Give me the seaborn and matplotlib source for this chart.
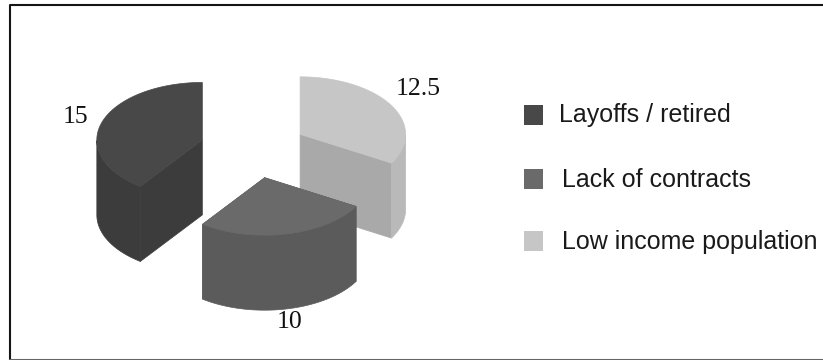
import numpy as np
import matplotlib
matplotlib.use("Agg")
import matplotlib.pyplot as plt
import seaborn as sns

# Survey shares, listed counterclockwise from twelve o'clock
categories = ["Layoffs / retired", "Lack of contracts", "Low income population"]
values = [15, 10, 12.5]
value_labels = ["15", "10", "12.5"]

top_colors = ["#484848", "#6a6a6a", "#c6c6c6"]
rim_colors = ["#3c3c3c", "#5b5b5b", "#b9b9b9"]
cut_colors = ["#3c3c3c", "#5b5b5b", "#a9a9a9"]

sns.set_theme(style="white")

W, H = 823, 360
fig = plt.figure(figsize=(W / 100, H / 100), dpi=100)
ax = fig.add_axes([0, 0, 1, 1])
ax.set_xlim(0, W)
ax.set_ylim(H, 0)
ax.axis("off")

# Oblique projection of the unit pie onto the canvas
CX, CY, RX, RY = 253.5, 149, 105.5, 57.5
DEPTH = 75
EXPLODE = 0.51


def project(u, v):
    return CX + RX * np.asarray(u), CY - RY * np.asarray(v)


def draw_slice(start, sweep, top, rim, cut, layer):
    mid = np.radians(start + sweep / 2)
    ox, oy = EXPLODE * np.cos(mid), EXPLODE * np.sin(mid)
    th = np.radians(np.linspace(start, start + sweep, 160))
    ex, ey = project(ox + np.cos(th), oy + np.sin(th))
    px, py = project(ox, oy)
    edge = dict(lw=0.5, zorder=layer)

    # Flat cut faces that look toward the viewer
    for end in (0, -1):
        if ey[end] > py:
            ax.fill([px, ex[end], ex[end], px],
                    [py, ey[end], ey[end] + DEPTH, py + DEPTH],
                    color=cut, **edge)

    # Curved outer wall, front half only
    front = np.sin(th) < 0
    if front.any():
        fx, fy = ex[front], ey[front]
        ax.fill(np.r_[fx, fx[::-1]], np.r_[fy, fy[::-1] + DEPTH],
                color=rim, **edge)

    # Top face
    ax.fill(np.r_[px, ex], np.r_[py, ey], color=top, lw=0.5, zorder=layer + 1)


# Painter's order: back slices first, the front slice last
total = sum(values)
sweeps = [v / total * 360 for v in values]
starts = 90 + np.cumsum([0] + sweeps[:-1])
for layer, i in enumerate((2, 0, 1)):
    draw_slice(starts[i], sweeps[i], top_colors[i], rim_colors[i], cut_colors[i],
               2 + 2 * layer)

# Value labels
label_xy = [(75, 117), (290, 322), (418, 89)]
for text, (x, y) in zip(value_labels, label_xy):
    ax.text(x, y, text, family="Liberation Serif", fontsize=18.5,
            color="#111111", ha="center", va="center", zorder=50)

# Legend column
swatch_y = [115, 178.5, 241]
baseline_y = [122, 187, 249]
legend_x = [559, 562, 562]
for name, color, sy, by, x in zip(categories, top_colors, swatch_y, baseline_y, legend_x):
    ax.fill([524, 543, 543, 524], [sy - 10, sy - 10, sy + 10, sy + 10], color=color, lw=0)
    ax.text(x, by, name, family="Liberation Sans", fontsize=18,
            color="#1a1a1a", ha="left", va="baseline")

# Outer frame: dark top and left, grey bottom, open on the right
ax.plot([823, 10, 10], [5, 5, 360], color="#151515", lw=1.5, zorder=60)
ax.plot([10, 823], [359.5, 359.5], color="#666666", lw=1.5, zorder=60)

fig.savefig("out.png", dpi=100)
